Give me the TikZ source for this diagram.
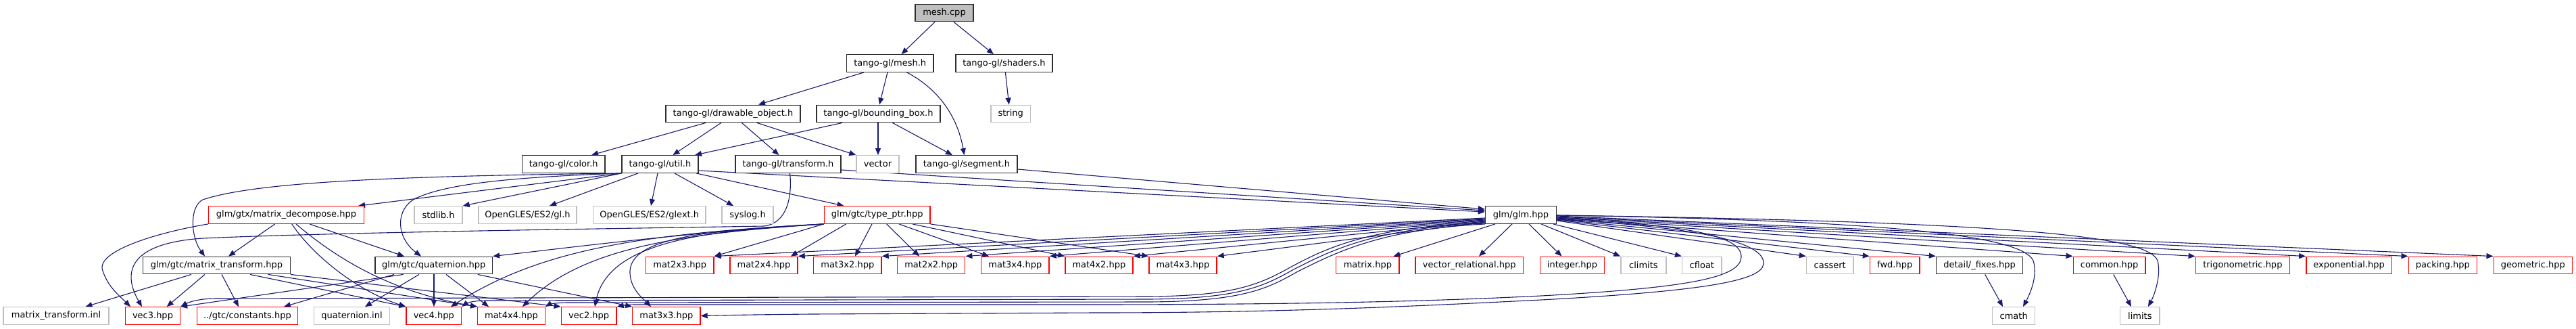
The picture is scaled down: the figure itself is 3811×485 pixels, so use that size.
\documentclass[tikz,border=0pt]{standalone}
\usepackage{fontspec}
\setmainfont{DejaVu Sans}
\usetikzlibrary{arrows.meta,backgrounds}
\definecolor{edgec}{HTML}{191970}
\definecolor{extc}{HTML}{BFBFBF}
\definecolor{blkc}{HTML}{2E2E2E}
\definecolor{redc}{HTML}{FF0000}
\definecolor{rootf}{HTML}{BFBFBF}
\tikzset{
 nbox/.style={draw, line width=1.4pt, fill=white, minimum height=25.5pt, inner sep=0pt, font=\fontsize{13}{15}\selectfont},
 blk/.style={nbox, draw=blkc},
 trunc/.style={nbox, draw=redc},
 ext/.style={nbox, draw=extc},
 root/.style={nbox, draw=blkc, fill=rootf},
 dep/.style={draw=edgec, line width=1.1pt, arrows={-Triangle[length=10pt,width=8pt]}}
}
\newcommand\nd[6]{\node[#1, minimum width={(#4-#3)*1pt}] (#2) at ({(#3+#4)/2},#5) {#6};}
\begin{document}
\begin{tikzpicture}[x=1pt,y=-1pt]
\useasboundingbox (0,0) rectangle (3811,485);
% row 0-3
\nd{root}{meshcpp}{1354}{1440}{19}{mesh.cpp}
\nd{blk}{meshh}{1252.5}{1381}{93.5}{tango-gl/mesh.h}
\nd{blk}{shaders}{1414}{1557}{93.5}{tango-gl/shaders.h}
\nd{blk}{drawable}{985}{1184}{168}{tango-gl/drawable\_object.h}
\nd{blk}{bbox}{1208}{1391}{168}{tango-gl/bounding\_box.h}
\nd{ext}{string}{1466}{1524.5}{168}{string}
\nd{blk}{color}{772.5}{895}{242.5}{tango-gl/color.h}
\nd{blk}{util}{920}{1033}{242.5}{tango-gl/util.h}
\nd{blk}{transform}{1088}{1244}{242.5}{tango-gl/transform.h}
\nd{ext}{vector}{1267}{1330}{242.5}{vector}
\nd{blk}{segment}{1355}{1505}{242.5}{tango-gl/segment.h}
% row 4
\nd{trunc}{decomp}{308.5}{538.5}{317.5}{glm/gtx/matrix\_decompose.hpp}
\nd{ext}{stdlib}{613}{684}{317.5}{stdlib.h}
\nd{ext}{gl}{708}{853}{317.5}{OpenGLES/ES2/gl.h}
\nd{ext}{glext}{877.5}{1044}{317.5}{OpenGLES/ES2/glext.h}
\nd{ext}{syslog}{1068}{1144}{317.5}{syslog.h}
\nd{trunc}{typeptr}{1219.5}{1376}{317.5}{glm/gtc/type\_ptr.hpp}
\nd{blk}{glm}{2197.5}{2302.5}{317.5}{glm/glm.hpp}
% row 5
\nd{blk}{mtrans}{211.7}{429.3}{392}{glm/gtc/matrix\_transform.hpp}
\nd{blk}{quat}{555}{728.4}{392}{glm/gtc/quaternion.hpp}
\nd{trunc}{m23}{955.5}{1056}{392}{mat2x3.hpp}
\nd{trunc}{m24}{1080}{1180}{392}{mat2x4.hpp}
\nd{trunc}{m32}{1203.7}{1304}{392}{mat3x2.hpp}
\nd{trunc}{m22}{1327.7}{1427.7}{392}{mat2x2.hpp}
\nd{trunc}{m34}{1451.7}{1552}{392}{mat3x4.hpp}
\nd{trunc}{m42}{1575.8}{1676}{392}{mat4x2.hpp}
\nd{trunc}{m43}{1699.8}{1800}{392}{mat4x3.hpp}
\nd{trunc}{matrix}{1976.7}{2070}{392}{matrix.hpp}
\nd{trunc}{vecrel}{2093.8}{2253.7}{392}{vector\_relational.hpp}
\nd{trunc}{integer}{2278.6}{2373.4}{392}{integer.hpp}
\nd{ext}{climits}{2397.9}{2464.9}{392}{climits}
\nd{ext}{cfloat}{2488.6}{2547.1}{392}{cfloat}
\nd{ext}{cassert}{2672.5}{2742}{392}{cassert}
\nd{trunc}{fwd}{2766.5}{2840}{392}{fwd.hpp}
\nd{blk}{fixes}{2864.5}{2992.7}{392}{detail/\_fixes.hpp}
\nd{trunc}{common}{3067.3}{3174}{392}{common.hpp}
\nd{trunc}{trig}{3248.3}{3387.4}{392}{trigonometric.hpp}
\nd{trunc}{expo}{3411.8}{3538.3}{392}{exponential.hpp}
\nd{trunc}{packing}{3563.2}{3664.4}{392}{packing.hpp}
\nd{trunc}{geometric}{3689.2}{3805.6}{392}{geometric.hpp}
% row 6
\nd{ext}{mtinl}{5}{161}{466.5}{matrix\_transform.inl}
\nd{trunc}{vec3}{185.5}{266.5}{466.5}{vec3.hpp}
\nd{trunc}{constants}{291.3}{440.7}{466.5}{../gtc/constants.hpp}
\nd{ext}{quatinl}{464.3}{576.7}{466.5}{quaternion.inl}
\nd{trunc}{vec4}{601}{682.5}{466.5}{vec4.hpp}
\nd{trunc}{m44}{706.7}{806.3}{466.5}{mat4x4.hpp}
\nd{trunc}{vec2}{830.3}{912}{466.5}{vec2.hpp}
\nd{trunc}{m33}{935.7}{1036}{466.5}{mat3x3.hpp}
\nd{ext}{cmath}{2947.7}{3010.7}{466.5}{cmath}
\nd{ext}{limits}{3136.7}{3195}{466.5}{limits}

\begin{pgfonlayer}{background}
\fill[white] (0,0) rectangle (3811,485);
% top
\draw[dep] (1383,0 |- meshcpp.south) -- (1333.5,0 |- meshh.north);
\draw[dep] (1411,0 |- meshcpp.south) -- (1470,0 |- shaders.north);
\draw[dep] (1278,0 |- meshh.south) -- (1122,0 |- drawable.north);
\draw[dep] (1313,0 |- meshh.south) -- (1301,0 |- bbox.north);
\draw[dep] (1341.6,0 |- meshh.south) .. controls (1395,135) and (1418,180) .. (1426.5,0 |- segment.north);
\draw[dep] (1487.4,0 |- shaders.south) -- (1492.7,0 |- string.north);
\draw[dep] (1044,0 |- drawable.south) -- (875,0 |- color.north);
\draw[dep] (1066.8,0 |- drawable.south) -- (995.4,0 |- util.north);
\draw[dep] (1097.4,0 |- drawable.south) -- (1152.5,0 |- transform.north);
\draw[dep] (1120,0 |- drawable.south) -- (vector.north west);
\draw[dep] (1246,0 |- bbox.south) -- (1028,0 |- util.north);
\draw[dep] (1299,0 |- bbox.south) -- (1299,0 |- vector.north);
\draw[dep] (1320.4,0 |- bbox.south) -- (1409,0 |- segment.north);
% into glm
\draw[dep] (segment.east |- 0,250) -- (glm.west |- 0,309);
\draw[dep] (transform.east |- 0,251) -- (glm.west |- 0,311);
\draw[dep] (util.east |- 0,252) -- (glm.west |- 0,313);
% util
\draw[dep] (util.south west) -- (stdlib.north east);
\draw[dep] (944,0 |- util.south) -- (813,0 |- gl.north);
\draw[dep] (973,0 |- util.south) -- (963,0 |- glext.north);
\draw[dep] (998,0 |- util.south) -- (1085,0 |- syslog.north);
\draw[dep] (1030,0 |- util.south) -- (1248.5,0 |- typeptr.north);
\draw[dep] (util.south west) -- (530,0 |- decomp.north);
\draw[dep] (util.south west) .. controls (600,260) and (380,268) .. (300,295) .. controls (280,305) and (282,350) .. (303,0 |- mtrans.north);
\draw[dep] (util.south west) .. controls (750,262) and (660,272) .. (615,293) .. controls (585,308) and (585,350) .. (623,0 |- quat.north);
% transform
\draw[dep] (1168.6,0 |- transform.south) .. controls (1172,290) and (1165,330) .. (1130,334) .. controls (900,338) and (500,343) .. (300,352) .. controls (180,360) and (185,410) .. (210,0 |- vec3.north);
% decompose
\draw[dep] (decomp.south west) .. controls (240,342) and (140,370) .. (152,400) .. controls (160,425) and (180,440) .. (193,0 |- vec3.north);
\draw[dep] (406.7,0 |- decomp.south) -- (338,0 |- mtrans.north);
\draw[dep] (458,0 |- decomp.south) -- (598,0 |- quat.north);
\draw[dep] (431.7,0 |- decomp.south) .. controls (465,380) and (530,430) .. (vec4.north west);
\draw[dep] (438,0 |- decomp.south) .. controls (490,375) and (570,430) .. (m44.north west);
% matrix_transform
\draw[dep] (283,0 |- mtrans.south) -- (126.5,0 |- mtinl.north);
\draw[dep] (303,0 |- mtrans.south) -- (246.7,0 |- vec3.north);
\draw[dep] (328,0 |- mtrans.south) -- (353,0 |- constants.north);
\draw[dep] (370,0 |- mtrans.south) -- (vec4.north west);
\draw[dep] (396.7,0 |- mtrans.south) -- (m44.north west);
\draw[dep] (mtrans.south east) -- (vec2.north west);
% quaternion
\draw[dep] (596.7,0 |- quat.south) -- (vec3.north east);
\draw[dep] (583,0 |- quat.south) -- (420,0 |- constants.north);
\draw[dep] (620,0 |- quat.south) -- (540,0 |- quatinl.north);
\draw[dep] (642,0 |- quat.south) -- (642,0 |- vec4.north);
\draw[dep] (660,0 |- quat.south) -- (723,0 |- m44.north);
\draw[dep] (706.7,0 |- quat.south) -- (m33.north west);
% type_ptr
\draw[dep] (typeptr.south west) .. controls (1000,345) and (850,365) .. (quat.north east);
\draw[dep] (typeptr.south west) .. controls (950,345) and (800,368) .. (667,0 |- vec4.north);
\draw[dep] (typeptr.south west) .. controls (1000,345) and (860,368) .. (773,0 |- m44.north);
\draw[dep] (typeptr.south west) .. controls (1050,340) and (900,355) .. (880,0 |- vec2.north);
\draw[dep] (typeptr.south west) .. controls (1050,340) and (935,350) .. (932,400) .. controls (931,425) and (950,440) .. (963,0 |- m33.north);
\draw[dep] (typeptr.south west) -- (m23.north east);
\draw[dep] (1251.7,0 |- typeptr.south) -- (1170,0 |- m24.north);
\draw[dep] (1290,0 |- typeptr.south) -- (1265,0 |- m32.north);
\draw[dep] (1311.7,0 |- typeptr.south) -- (1360,0 |- m22.north);
\draw[dep] (1330,0 |- typeptr.south) -- (1463,0 |- m34.north);
\draw[dep] (1350,0 |- typeptr.south) -- (m42.north west);
\draw[dep] (typeptr.south east) -- (m43.north west);
% glm left
\draw[dep] (glm.west |- 0,322) -- (m23.north east);
\draw[dep] (glm.west |- 0,323) -- (m24.north east);
\draw[dep] (glm.west |- 0,324) -- (m32.north east);
\draw[dep] (glm.west |- 0,325) -- (m22.north east);
\draw[dep] (glm.west |- 0,326) -- (m34.north east);
\draw[dep] (glm.west |- 0,327) -- (m42.north east);
\draw[dep] (glm.west |- 0,328) -- (m43.north east);
\draw[dep] (glm.west |- 0,329) .. controls (2020,335) and (1955,370) .. (1905,397) .. controls (1860,422) and (1820,437) .. (1700,438) -- (320,441) .. controls (295,441) and (280,446) .. (vec3.north east);
\draw[dep] (glm.west |- 0,330) .. controls (2030,337) and (1965,372) .. (1912,399) .. controls (1868,424) and (1830,441) .. (1700,442) -- (720,444) .. controls (700,444) and (690,448) .. (vec4.north east);
\draw[dep] (glm.west |- 0,331) .. controls (2040,339) and (1975,374) .. (1920,401) .. controls (1876,426) and (1840,445) .. (1700,446) -- (840,447) .. controls (822,447) and (812,450) .. (m44.north east);
% glm loops
\draw[dep] (glm.east |- 0,322) .. controls (2480,332) and (2578,345) .. (2576,380) .. controls (2574,410) and (2500,425) .. (2280,437) .. controls (2100,446) and (1900,450) .. (1600,450) -- (940,450) .. controls (925,450) and (918,452) .. (vec2.north east);
\draw[dep] (glm.east |- 0,324) .. controls (2500,335) and (2612,355) .. (2609,390) .. controls (2606,415) and (2520,430) .. (2280,443) .. controls (2100,452) and (1900,462) .. (1620,462) -- (1200,464) .. controls (1100,465) and (1060,466) .. (m33.east);
% glm right
\draw[dep] (2212,0 |- glm.south) -- (2061.5,0 |- matrix.north);
\draw[dep] (2237,0 |- glm.south) -- (2188,0 |- vecrel.north);
\draw[dep] (2262,0 |- glm.south) -- (2310.5,0 |- integer.north);
\draw[dep] (2280,0 |- glm.south) -- (climits.north west);
\draw[dep] (2298,0 |- glm.south) -- (cfloat.north west);
\draw[dep] (glm.east |- 0,326) -- (cassert.north west);
\draw[dep] (glm.east |- 0,325) -- (fwd.north west);
\draw[dep] (glm.east |- 0,324) -- (fixes.north west);
\draw[dep] (glm.east |- 0,323) -- (common.north west);
\draw[dep] (glm.east |- 0,322) -- (trig.north west);
\draw[dep] (glm.east |- 0,321) -- (expo.north west);
\draw[dep] (glm.east |- 0,320) -- (packing.north west);
\draw[dep] (glm.east |- 0,319) -- (geometric.north west);
\draw[dep] (glm.east |- 0,318) .. controls (2800,326) and (2990,348) .. (3008,385) .. controls (3016,410) and (3000,440) .. (2993,0 |- cmath.north);
\draw[dep] (glm.east |- 0,318) .. controls (3000,328) and (3178,350) .. (3192,385) .. controls (3198,410) and (3185,440) .. (3178,0 |- limits.north);
\draw[dep] (2936.7,0 |- fixes.south) -- (2963,0 |- cmath.north);
\draw[dep] (3126.7,0 |- common.south) -- (3153,0 |- limits.north);
\end{pgfonlayer}
\end{tikzpicture}
\end{document}
